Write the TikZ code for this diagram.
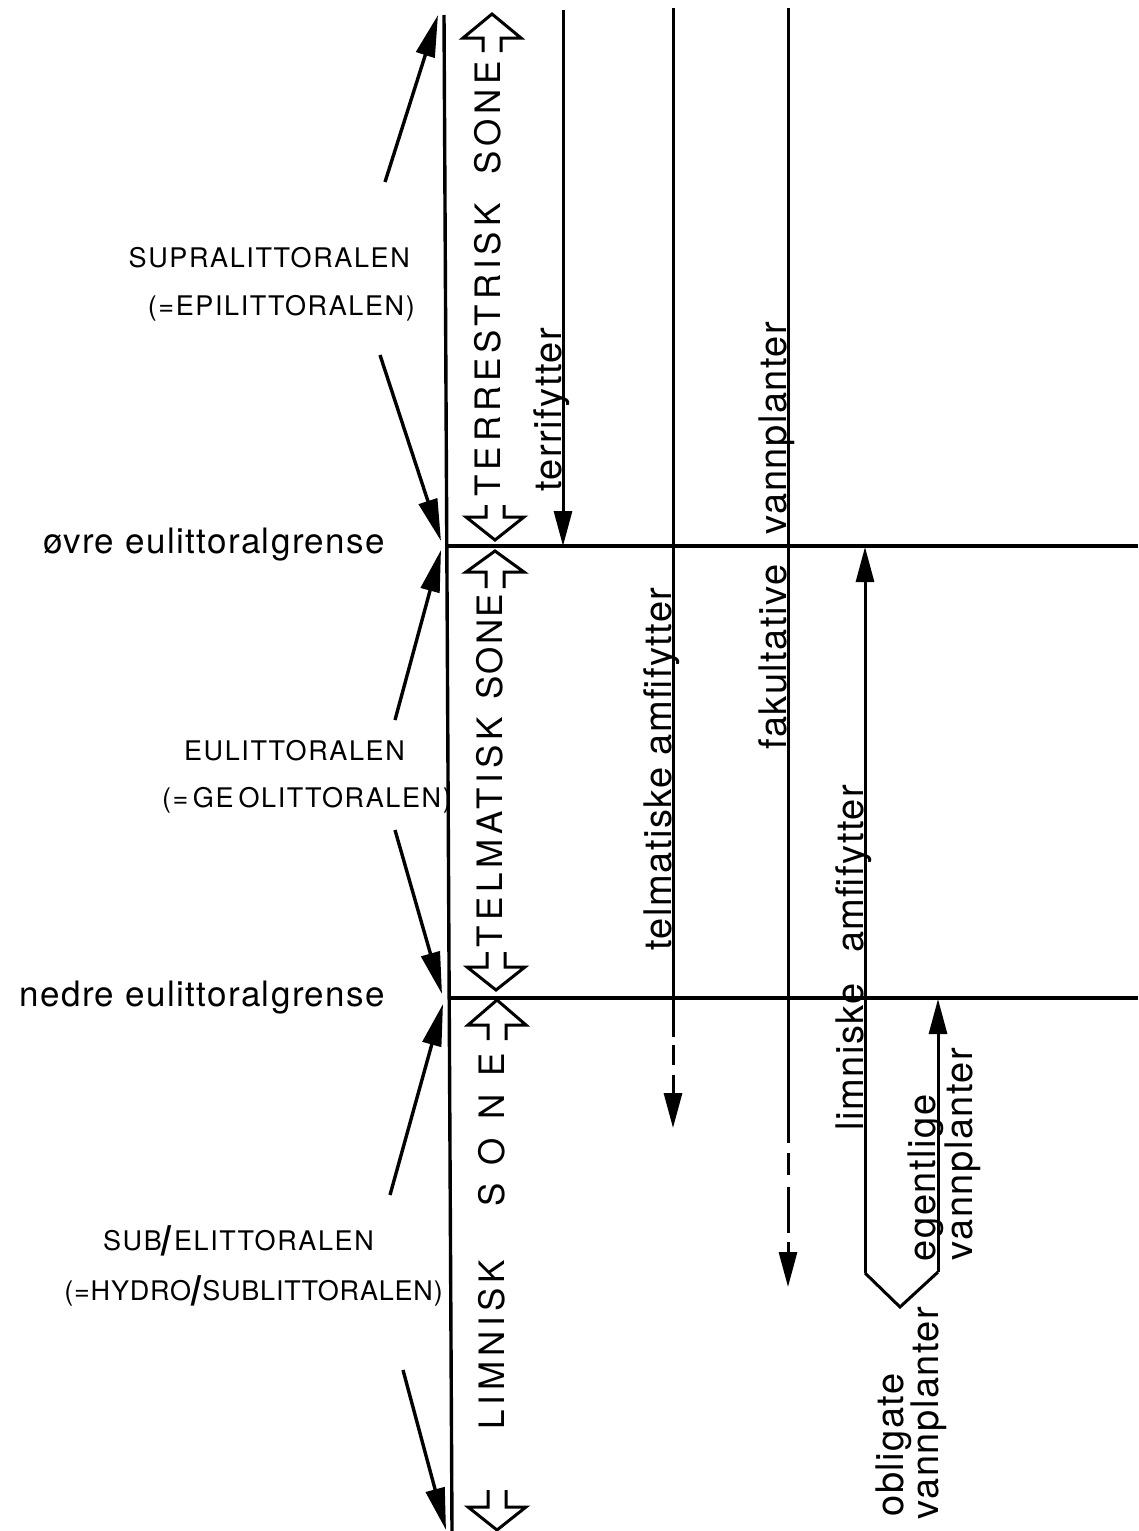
\documentclass[tikz,border=0pt]{standalone}
\usepackage{fontspec}
\setmainfont{TeX Gyre Heros}
\newfontfamily\lowfont[LetterSpace=4]{TeX Gyre Heros}
\newfontfamily\capfont[LetterSpace=6]{TeX Gyre Heros}
\newfontfamily\capnarrow[LetterSpace=3]{TeX Gyre Heros}
\newfontfamily\zonefont[LetterSpace=14]{TeX Gyre Heros}
\newfontfamily\zonetight[LetterSpace=6]{TeX Gyre Heros}
\newfontfamily\zonewide[LetterSpace=52]{TeX Gyre Heros}
\usetikzlibrary{arrows.meta}

% heavy slash used in the sub-littoral labels
\newcommand\heavyslash{\raisebox{-0.22em}{\scalebox{1.3}[1.55]{\textbf{/}}}}
% open block arrow marking a zone limit: x, tip y, head base y, shaft end y
\newcommand\zonearrow[4]{%
  \draw[hollow] (#1-9,#4) -- (#1-9,#3) -- (#1-29,#3) -- (#1,#2)
    -- (#1+29,#3) -- (#1+9,#3) -- (#1+9,#4);}

\tikzset{
  boundary/.style={line width=3.4pt},
  pointer/.style={line width=3.4pt, -{Triangle[length=42pt,width=19pt]}},
  extent/.style={line width=3pt},
  extentarrow/.style={line width=3pt, -{Triangle[length=35pt,width=18pt]}},
  hollow/.style={line width=3pt, line join=miter},
  limitlabel/.style={font=\lowfont\fontsize{35}{38}\selectfont, inner sep=0, anchor=base east},
  littlabel/.style={font=\capfont\fontsize{27}{30}\selectfont, inner sep=0, anchor=base east},
  zonelabel/.style={inner sep=0, rotate=90},
  grouplabel/.style={font=\lowfont\fontsize{38}{40}\selectfont, inner sep=0, rotate=90, anchor=base},
}

\begin{document}
\begin{tikzpicture}[x=1pt,y=-1pt]
\useasboundingbox (0,0) rectangle (1138,1531);

% ---- frame: shore axis and the two eulittoral limits
\coordinate (axtop) at (444,15);
\coordinate (axbot) at (452,1531);
\coordinate (upL) at (448,546);
\coordinate (upR) at (1138,546);
\coordinate (loL) at (451,998);
\coordinate (loR) at (1138,998);
\draw[boundary] (axtop) -- (axbot);
\draw[boundary] (upL) -- (upR);
\draw[boundary] (loL) -- (loR);

% ---- limit names
\node[limitlabel] (upper) at (385,553) {øvre eulittoralgrense};
\node[limitlabel] (lower) at (385,1006) {nedre eulittoralgrense};

% ---- littoral belt names
\node[littlabel] (supra) at (410,267) {SUPRALITTORALEN};
\node[littlabel] (epi) at (415,315) {(=EPILITTORALEN)};
\node[littlabel] (eu) at (405,760) {EULITTORALEN};
\node[littlabel] (geo) at (452,807) {(=\,GE\hspace{5pt}OLITTORALEN)};
\node[littlabel] (sub) at (374,1250) {SUB\heavyslash ELITTORALEN};
\node[littlabel, font=\capnarrow\fontsize{27}{30}\selectfont] (hydro) at (443,1300) {(=HYDRO\heavyslash SUBLITTORALEN)};

% ---- pointers from the belt names to their limits
\coordinate (p1s) at (385,182);  \coordinate (p1e) at (438,15);
\coordinate (p2s) at (380,355);  \coordinate (p2e) at (441,541);
\coordinate (p3s) at (395,720);  \coordinate (p3e) at (441,550);
\coordinate (p4s) at (395,830);  \coordinate (p4e) at (442,994);
\coordinate (p5s) at (390,1195); \coordinate (p5e) at (443,1004);
\coordinate (p6s) at (403,1370); \coordinate (p6e) at (446,1530);
\draw[pointer] (p1s) -- (p1e);
\draw[pointer] (p2s) -- (p2e);
\draw[pointer] (p3s) -- (p3e);
\draw[pointer] (p4s) -- (p4e);
\draw[pointer] (p5s) -- (p5e);
\draw[pointer] (p6s) -- (p6e);

% ---- zone names with open limit arrows
\node[zonelabel, font=\zonefont\fontsize{35}{38}\selectfont] (terr) at (488,350) {TERRESTRISK};
\node[zonelabel, font=\zonefont\fontsize{35}{38}\selectfont] (terrs) at (488,118) {SONE};
\node[zonelabel, font=\zonefont\fontsize{35}{38}\selectfont] (telm) at (490,832) {TELMATISK};
\node[zonelabel, font=\zonetight\fontsize{35}{38}\selectfont] (telms) at (490,647) {SONE};
\node[zonelabel, font=\zonefont\fontsize{35}{38}\selectfont] (limn) at (492,1345) {LIMNISK};
\node[zonelabel, font=\zonewide\fontsize{35}{38}\selectfont] (limns) at (492,1130) {SONE};

\zonearrow{492}{14}{38}{52}
\zonearrow{495}{540}{517}{505}
\zonearrow{495}{551}{572}{588}
\zonearrow{496}{990}{967}{952}
\zonearrow{497}{1000}{1025}{1040}
\zonearrow{497}{1530}{1507}{1490}

% ---- plant groups and their extents
\coordinate (t1) at (563,10);  \coordinate (t2) at (563,546);
\draw[extentarrow] (t1) -- (t2);
\node[grouplabel] (terrif) at (561,410) {terrifytter};

\coordinate (a1) at (673,8);   \coordinate (a2) at (673,1037);
\coordinate (a3) at (673,1045); \coordinate (a4) at (673,1128);
\draw[extent] (a1) -- (a2);
\draw[extentarrow, dash pattern={on 20pt off 10pt}] (a3) -- (a4);
\node[grouplabel] (telamf) at (671,769) {telmatiske amfifytter};

\coordinate (f1) at (788,8);   \coordinate (f2) at (788,1143);
\coordinate (f3) at (788,1153); \coordinate (f4) at (788,1287);
\draw[extent] (f1) -- (f2);
\draw[extentarrow, dash pattern={on 22pt off 12pt on 46pt off 9pt}] (f3) -- (f4);
\node[grouplabel] (fak) at (786,657) {fakultative};
\node[grouplabel] (fakvann) at (786,428) {vannplanter};

\coordinate (l1) at (865,1273); \coordinate (l2) at (865,547);
\coordinate (vtip) at (900,1307);
\coordinate (e1) at (938,1272); \coordinate (e2) at (938,999);
\draw[extentarrow] (l1) -- (l2);
\draw[extentarrow] (e1) -- (e2);
\draw[extent, line join=miter] (l1) -- (vtip) -- (e1);
\node[grouplabel] (limamf) at (863,1057) {limniske};
\node[grouplabel] (limamf2) at (863,869) {amfifytter};
\node[grouplabel] (egent) at (935,1178) {egentlige};
\node[grouplabel] (egvann) at (972,1154) {vannplanter};
\node[grouplabel] (oblig) at (903,1445) {obligate};
\node[grouplabel] (obvann) at (938,1413) {vannplanter};
\end{tikzpicture}
\end{document}
